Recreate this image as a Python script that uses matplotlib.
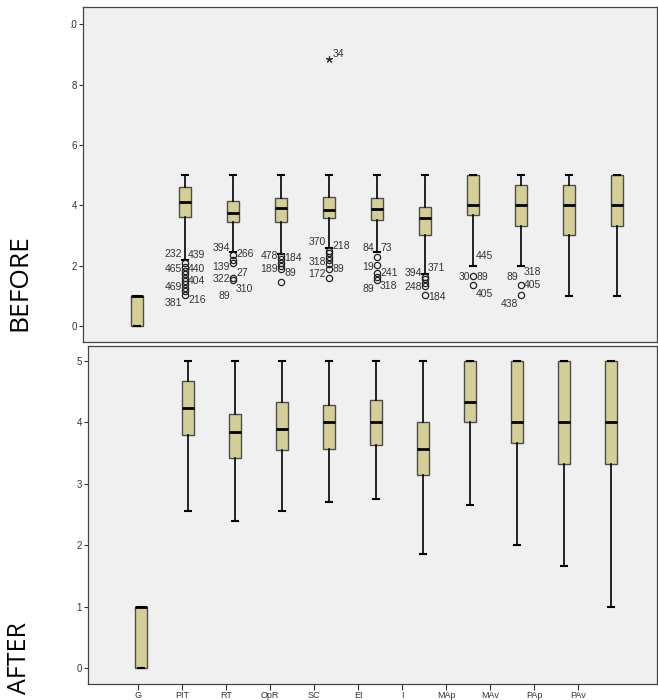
import matplotlib
matplotlib.use('Agg')
import matplotlib.pyplot as pl
from matplotlib.transforms import Bbox
import numpy as np

categories = ['G', 'PIT', 'RT', 'OpR', 'SC', 'EI', 'I', 'MAp', 'MAv', 'PAp', 'PAv']

# BEFORE panel
before_q1 = [0, 3.60, 3.43, 3.45, 3.59, 3.51, 3.00, 3.67, 3.33, 3.00, 3.33]
before_med = [1, 4.10, 3.73, 3.90, 3.86, 3.88, 3.58, 4.00, 4.00, 4.00, 4.00]
before_q3 = [1, 4.59, 4.15, 4.23, 4.28, 4.25, 3.93, 5.00, 4.67, 4.67, 5.00]
before_lo = [0, 2.20, 2.45, 2.40, 2.60, 2.45, 1.72, 2.00, 2.00, 1.00, 1.00]
before_hi = [1, 5.00, 5.00, 5.00, 5.00, 5.00, 5.00, 5.00, 5.00, 5.00, 5.00]
before_fliers = [
    [],
    [2.08, 1.94, 1.83, 1.72, 1.60, 1.49, 1.38, 1.27, 1.16, 1.03],
    [2.35, 2.20, 2.08, 1.60, 1.52],
    [2.32, 2.21, 2.10, 1.99, 1.88, 1.45],
    [2.49, 2.41, 2.30, 2.19, 2.04, 1.88, 1.58],
    [2.27, 2.02, 1.76, 1.63, 1.52],
    [1.63, 1.55, 1.43, 1.32, 1.03],
    [1.67, 1.35],
    [1.35, 1.02],
    [],
    [],
]
extreme_cat = 4
extreme_val = 8.86
extreme_label = '34'

# case labels: (category index, case id, value, side)
case_labels = [
    (1, '232', 2.38, 'L'), (1, '439', 2.35, 'R'), (1, '465', 1.89, 'L'), (1, '440', 1.89, 'R'),
    (1, '404', 1.49, 'R'), (1, '469', 1.29, 'L'), (1, '381', 0.76, 'L'), (1, '216', 0.86, 'R'),
    (2, '394', 2.58, 'L'), (2, '266', 2.38, 'R'), (2, '139', 1.95, 'L'), (2, '322', 1.56, 'L'),
    (2, '27', 1.75, 'R'), (2, '89', 0.99, 'L'), (2, '310', 1.22, 'R'),
    (3, '478', 2.32, 'L'), (3, '184', 2.25, 'R'), (3, '189', 1.89, 'L'), (3, '89', 1.75, 'R'),
    (4, '370', 2.78, 'L'), (4, '218', 2.65, 'R'), (4, '318', 2.12, 'L'), (4, '89', 1.89, 'R'),
    (4, '172', 1.72, 'L'),
    (5, '84', 2.58, 'L'), (5, '73', 2.58, 'R'), (5, '19', 1.95, 'L'), (5, '241', 1.75, 'R'),
    (5, '89', 1.22, 'L'), (5, '318', 1.32, 'R'),
    (6, '371', 1.92, 'R'), (6, '394', 1.75, 'L'), (6, '248', 1.29, 'L'), (6, '184', 0.96, 'R'),
    (7, '445', 2.32, 'R'), (7, '30', 1.62, 'L'), (7, '89', 1.62, 'R'), (7, '405', 1.06, 'R'),
    (8, '89', 1.62, 'L'), (8, '318', 1.79, 'R'), (8, '405', 1.36, 'R'), (8, '438', 0.73, 'L'),
]

# AFTER panel
after_q1 = [0, 3.79, 3.42, 3.55, 3.57, 3.63, 3.14, 4.00, 3.66, 3.33, 3.33]
after_med = [1, 4.23, 3.85, 3.89, 4.00, 4.00, 3.57, 4.33, 4.00, 4.00, 4.00]
after_q3 = [1, 4.67, 4.14, 4.33, 4.28, 4.37, 4.00, 5.00, 5.00, 5.00, 5.00]
after_lo = [0, 2.55, 2.40, 2.55, 2.71, 2.75, 1.86, 2.66, 2.00, 1.66, 1.00]
after_hi = [1, 5.00, 5.00, 5.00, 5.00, 5.00, 5.00, 5.00, 5.00, 5.00, 5.00]

before_yticks = [0, 2, 4, 6, 8, 10]
after_yticks = [0, 1, 2, 3, 4, 5]

pl.rcParams['font.family'] = ['Liberation Sans', 'DejaVu Sans']

box_color = '#d4cf98'
bg_color = '#f0f0f0'
frame_color = '#444444'


def make_stats(q1, med, q3, lo, hi, fliers=None):
    stats = []
    for i in range(len(q1)):
        stats.append({
            'q1': q1[i], 'med': med[i], 'q3': q3[i],
            'whislo': lo[i], 'whishi': hi[i],
            'fliers': fliers[i] if fliers is not None else [],
        })
    return stats


def draw_boxes(ax, stats):
    ax.bxp(stats, positions=np.arange(len(stats)), widths=0.27, patch_artist=True,
           showfliers=True, capwidths=0.13, manage_ticks=False,
           boxprops=dict(facecolor=box_color, edgecolor='#4d4d4d', linewidth=1.0),
           medianprops=dict(color='black', linewidth=2.0),
           whiskerprops=dict(color='black', linewidth=1.2),
           capprops=dict(color='black', linewidth=1.5),
           flierprops=dict(marker='o', markerfacecolor='none', markeredgecolor='#222222',
                           markersize=4.5, markeredgewidth=0.9))


def style_axes(ax):
    ax.set_facecolor(bg_color)
    for s in ax.spines.values():
        s.set_color(frame_color)
        s.set_linewidth(0.9)
    ax.tick_params(axis='y', length=3, width=0.8, color='#333333', labelsize=7,
                   labelcolor='#333333', pad=1.5)


fig = pl.figure(figsize=(6.58, 7.0), dpi=100)

# BEFORE
ax1 = fig.add_axes([83 / 658, 1 - 342 / 700, 574 / 658, 335 / 700])
style_axes(ax1)
draw_boxes(ax1, make_stats(before_q1, before_med, before_q3, before_lo, before_hi, before_fliers))
ax1.plot([extreme_cat], [extreme_val], marker=(5, 2, 0), color='#333333', markersize=5,
         linestyle='none', markeredgewidth=0.8)
ax1.annotate(extreme_label, xy=(extreme_cat, extreme_val), xytext=(2.5, 3), textcoords='offset points',
             ha='left', va='center', fontsize=7.5, color='#333333')
for cat, txt, val, side in case_labels:
    dx = -2.2 if side == 'L' else 2.2
    ax1.annotate(txt, xy=(cat, val), xytext=(dx, 0), textcoords='offset points',
                 ha='right' if side == 'L' else 'left', va='center', fontsize=7.5, color='#333333')
ax1.set_xlim(-1.125, 10.833)
ax1.set_ylim(-0.53, 10.57)
ax1.set_xticks([])
ax1.set_yticks(before_yticks)
ax1.set_yticklabels([str(t) for t in before_yticks])

# AFTER
ax2 = fig.add_axes([88 / 658, 1 - 684 / 700, 569 / 658, 338 / 700])
style_axes(ax2)
draw_boxes(ax2, make_stats(after_q1, after_med, after_q3, after_lo, after_hi))
ax2.set_xlim(-1.128, 10.979)
ax2.set_ylim(-0.26, 5.245)
ax2.set_xticks([])
ax2.set_yticks(after_yticks)
ax2.set_yticklabels([str(t) for t in after_yticks])

# category label strip
ax3 = fig.add_axes([88 / 658, 1 - 684 / 700, 569 / 658, 0.0001])
ax3.patch.set_visible(False)
for s in ax3.spines.values():
    s.set_visible(False)
ax3.set_yticks([])
ax3.set_xlim(-1.136, 11.795)
ax3.set_xticks(np.arange(len(categories)))
ax3.set_xticklabels(categories)
ax3.tick_params(axis='x', length=4, width=0.8, color='#333333', labelsize=6.5,
                labelcolor='#333333', pad=1)

fig.text(20 / 658, 1 - 283 / 700, 'BEFORE', rotation=90, ha='center', va='center',
         fontsize=19, family='Open Sans')
fig.text(20 / 658, 1 - 658 / 700, 'AFTER', rotation=90, ha='center', va='center',
         fontsize=18, family='Open Sans')

# top tick label appears cut in the original: keep only its right digit
fig.canvas.draw()
top_label = ax1.get_yticklabels()[-1]
ext = top_label.get_window_extent()
top_label.set_clip_on(True)
top_label.set_clip_box(Bbox([[ext.x1 - ext.width / 2, 0], [fig.bbox.x1, fig.bbox.y1]]))

fig.savefig('out.png', dpi=100, facecolor='white')
